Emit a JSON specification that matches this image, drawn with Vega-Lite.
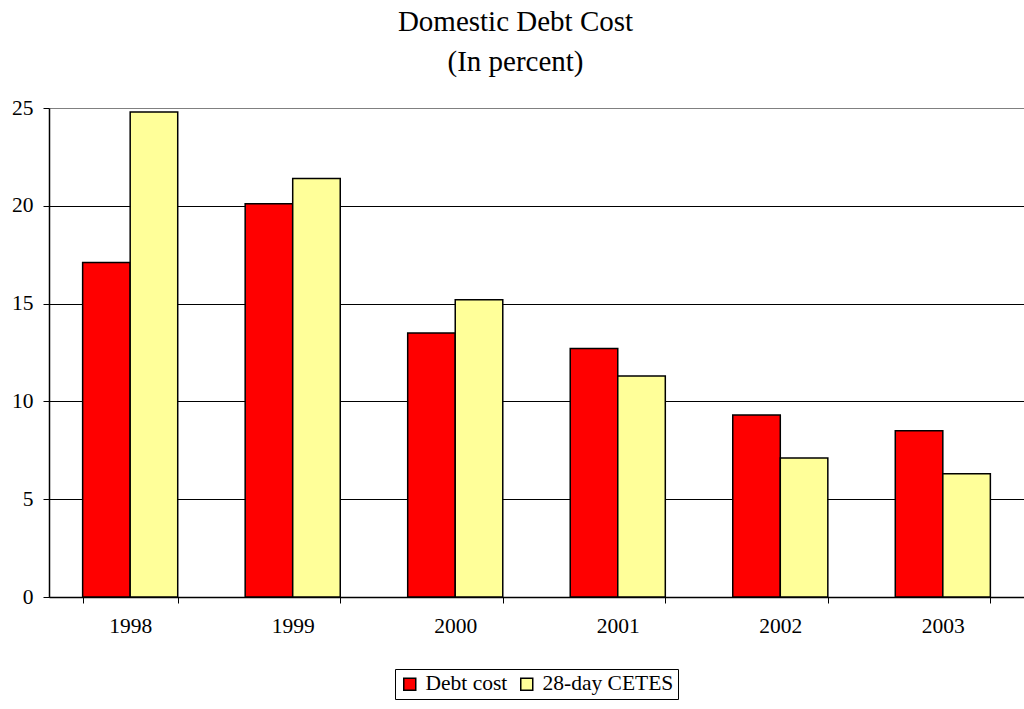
{
  "$schema": "https://vega.github.io/schema/vega-lite/v6.json",
  "autosize": "none",
  "width": 975,
  "height": 489,
  "padding": {"left": 49, "top": 108, "right": 0, "bottom": 112},
  "background": "white",
  "title": {
    "text": ["Domestic Debt Cost", "(In percent)"],
    "font": "Liberation Serif",
    "fontSize": 29,
    "fontWeight": "normal",
    "color": "black",
    "anchor": "middle",
    "dx": -21,
    "lineHeight": 40,
    "offset": 20
  },
  "data": {
    "values": [
      {"year": "1998", "series": "Debt cost", "value": 17.1},
      {"year": "1998", "series": "28-day CETES", "value": 24.8},
      {"year": "1999", "series": "Debt cost", "value": 20.1},
      {"year": "1999", "series": "28-day CETES", "value": 21.4},
      {"year": "2000", "series": "Debt cost", "value": 13.5},
      {"year": "2000", "series": "28-day CETES", "value": 15.2},
      {"year": "2001", "series": "Debt cost", "value": 12.7},
      {"year": "2001", "series": "28-day CETES", "value": 11.3},
      {"year": "2002", "series": "Debt cost", "value": 9.3},
      {"year": "2002", "series": "28-day CETES", "value": 7.1},
      {"year": "2003", "series": "Debt cost", "value": 8.5},
      {"year": "2003", "series": "28-day CETES", "value": 6.3}
    ]
  },
  "mark": {"type": "bar", "stroke": "black", "strokeWidth": 1.5},
  "encoding": {
    "x": {
      "field": "year",
      "type": "nominal",
      "title": null,
      "scale": {"paddingInner": 0.415, "paddingOuter": 0.207},
      "axis": {
        "labelAngle": 0,
        "labelFont": "Liberation Serif",
        "labelFontSize": 21.5,
        "labelColor": "black",
        "labelPadding": 12,
        "tickBand": "extent",
        "tickColor": "black",
        "tickSize": 6,
        "domainColor": "black",
        "domainWidth": 1.5
      }
    },
    "xOffset": {"field": "series", "type": "nominal", "sort": ["Debt cost", "28-day CETES"]},
    "y": {
      "field": "value",
      "type": "quantitative",
      "title": null,
      "scale": {"domain": [0, 25]},
      "axis": {
        "values": [0, 5, 10, 15, 20, 25],
        "labelFont": "Liberation Serif",
        "labelFontSize": 21.5,
        "labelColor": "black",
        "labelPadding": 10,
        "tickColor": "black",
        "tickSize": 6,
        "domainColor": "black",
        "domainWidth": 1.5,
        "grid": true,
        "gridColor": {"condition": {"test": "datum.value == 25", "value": "#808080"}, "value": "black"},
        "gridWidth": 1
      }
    },
    "color": {
      "field": "series",
      "type": "nominal",
      "sort": ["Debt cost", "28-day CETES"],
      "scale": {"domain": ["Debt cost", "28-day CETES"], "range": ["#FF0000", "#FFFF99"]},
      "legend": {
        "title": null,
        "orient": "none",
        "legendX": 346,
        "legendY": 561,
        "direction": "horizontal",
        "symbolType": "square",
        "symbolSize": 144,
        "symbolStrokeColor": "black",
        "symbolStrokeWidth": 1.5,
        "labelFont": "Liberation Serif",
        "labelFontSize": 21.5,
        "labelColor": "black",
        "labelOffset": 5,
        "columnPadding": 8,
        "padding": 4,
        "strokeColor": "black",
        "fillColor": "white"
      }
    }
  },
  "config": {"view": {"stroke": null}}
}
